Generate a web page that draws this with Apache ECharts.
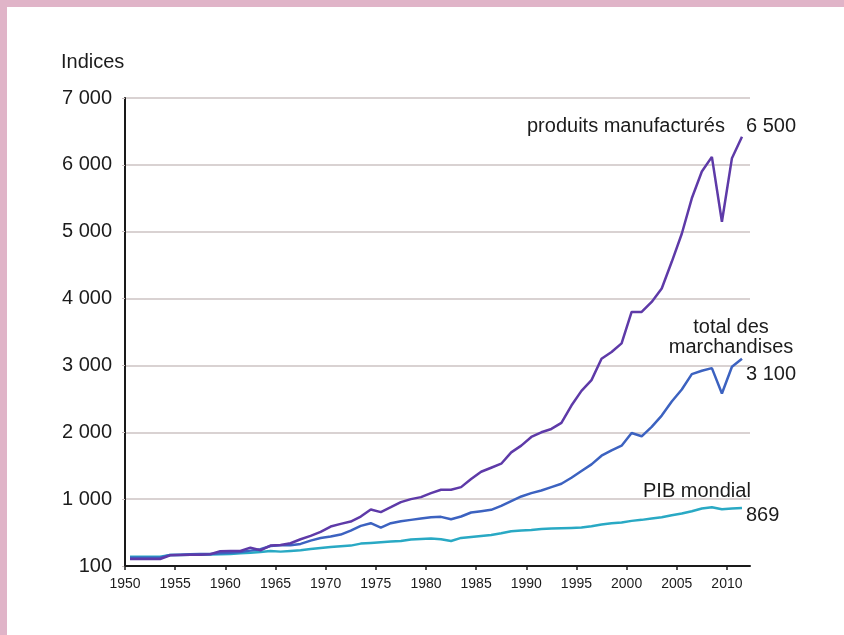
<!DOCTYPE html>
<html>
<head>
<meta charset="utf-8">
<script src="https://cdn.jsdelivr.net/npm/echarts@6/dist/echarts.min.js"></script>
<style>
  html, body { margin: 0; padding: 0; background: #fff; }
  #chart { width: 844px; height: 635px; }
</style>
</head>
<body>
<div id="chart"></div>
<script>
  // années (valeurs annuelles, tracées en milieu d'année)
  const years = [
    1950, 1951, 1952, 1953, 1954, 1955, 1956, 1957, 1958, 1959,
    1960, 1961, 1962, 1963, 1964, 1965, 1966, 1967, 1968, 1969,
    1970, 1971, 1972, 1973, 1974, 1975, 1976, 1977, 1978, 1979,
    1980, 1981, 1982, 1983, 1984, 1985, 1986, 1987, 1988, 1989,
    1990, 1991, 1992, 1993, 1994, 1995, 1996, 1997, 1998, 1999,
    2000, 2001, 2002, 2003, 2004, 2005, 2006, 2007, 2008, 2009,
    2010, 2011
  ]

  const produitsManufactures = [
    105, 105, 105, 105, 160, 165, 170, 170, 175, 222,
    225, 225, 275, 235, 305, 315, 340, 400, 450, 510,
    590, 630, 665, 740, 846, 806, 880, 955, 1000, 1030,
    1090, 1140, 1140, 1180, 1300, 1410, 1470, 1530, 1700, 1800,
    1930, 2000, 2050, 2140, 2400, 2620, 2780, 3100, 3200, 3330,
    3800, 3800, 3950, 4150, 4550, 4970, 5500, 5900, 6120, 5150,
    6100, 6420
  ]

  const totalMarchandises = [
    125, 125, 125, 125, 165, 170, 175, 180, 180, 190,
    200, 210, 230, 250, 300, 310, 310, 330, 380, 420,
    440, 470, 530, 600, 640, 575, 640, 670, 690, 710,
    730, 735, 700, 740, 800, 820, 840, 900, 970, 1040,
    1090, 1130, 1180, 1230, 1320, 1420, 1520, 1650, 1730, 1800,
    1990, 1940, 2080, 2250, 2460, 2640, 2870, 2920, 2960, 2580,
    2980, 3100
  ]

  const pibMondial = [
    140, 140, 140, 140, 165, 165, 168, 170, 172, 175,
    180, 190, 200, 210, 225, 215, 225, 235, 255, 270,
    285, 295, 305, 335, 345, 355, 365, 375, 395, 405,
    410, 400, 375, 420, 435, 450, 465, 490, 520, 530,
    540, 555, 560, 565, 570, 575, 595, 620, 640, 650,
    675, 690, 710, 730, 760, 785, 820, 860, 880, 850,
    860, 869
  ]

  const xTicks = [1950, 1955, 1960, 1965, 1970, 1975, 1980, 1985, 1990, 1995, 2000, 2005, 2010]
  const yTickLabels = ['100', '1 000', '2 000', '3 000', '4 000', '5 000', '6 000', '7 000']

  const FONT = "'Liberation Sans', Arial, sans-serif"
  const TXT = '#1c1c1c'
  const PINK = '#e0b4c8'

  const toPoints = (vals) => years.map((y, i) => [y + 0.5, vals[i]])

  const lineSeries = (name, vals, color) => ({
    name,
    type: 'line',
    data: toPoints(vals),
    showSymbol: false,
    smooth: false,
    lineStyle: { width: 2.5, color },
    itemStyle: { color }
  })

  const text = (str, x, y, opts = {}) => ({
    type: 'text',
    x,
    y,
    style: Object.assign({
      text: str,
      font: '20px ' + FONT,
      fill: TXT,
      textAlign: 'left',
      textVerticalAlign: 'bottom'
    }, opts)
  })

  const chart = echarts.init(document.getElementById('chart'))

  const option = {
    backgroundColor: '#fff',
    animation: false,
    grid: {
      left: 125,
      top: 98,
      right: 94,
      bottom: 69
    },
    xAxis: {
      type: 'value',
      min: 1950,
      max: 2012.3,
      axisLine: { lineStyle: { color: '#1a1a1a', width: 2 } },
      axisTick: {
        customValues: xTicks,
        length: 4,
        lineStyle: { color: '#1a1a1a', width: 1.5 }
      },
      axisLabel: {
        customValues: xTicks,
        margin: 11,
        color: TXT,
        fontFamily: FONT,
        fontSize: 14,
        formatter: (v) => String(v)
      },
      splitLine: { show: false }
    },
    yAxis: {
      type: 'value',
      min: 0,
      max: 7000,
      interval: 1000,
      axisLine: { show: true, lineStyle: { color: '#1a1a1a', width: 2 } },
      axisTick: { show: true, length: 3, lineStyle: { color: '#c9bfbf' } },
      axisLabel: {
        margin: 13,
        color: TXT,
        fontFamily: FONT,
        fontSize: 20,
        formatter: (v) => yTickLabels[Math.round(v / 1000)]
      },
      splitLine: { lineStyle: { color: '#cdc3c3', width: 1.5 } }
    },
    series: [
      lineSeries('PIB mondial', pibMondial, '#29a9c4'),
      lineSeries('total des marchandises', totalMarchandises, '#3c62c0'),
      lineSeries('produits manufacturés', produitsManufactures, '#5e3aa8')
    ],
    graphic: [
      // cadre rose
      { type: 'rect', shape: { x: 0, y: 0, width: 844, height: 7 }, style: { fill: PINK }, z: 100 },
      { type: 'rect', shape: { x: 0, y: 0, width: 7, height: 635 }, style: { fill: PINK }, z: 100 },

      text('Indices', 61, 72),
      text('produits manufacturés', 527, 136),
      text('6 500', 746, 136),
      text('total des', 731, 337, { textAlign: 'center' }),
      text('marchandises', 731, 357, { textAlign: 'center' }),
      text('3 100', 746, 384),
      text('PIB mondial', 643, 501),
      text('869', 746, 525)
    ]
  }

  chart.setOption(option)
</script>
</body>
</html>
